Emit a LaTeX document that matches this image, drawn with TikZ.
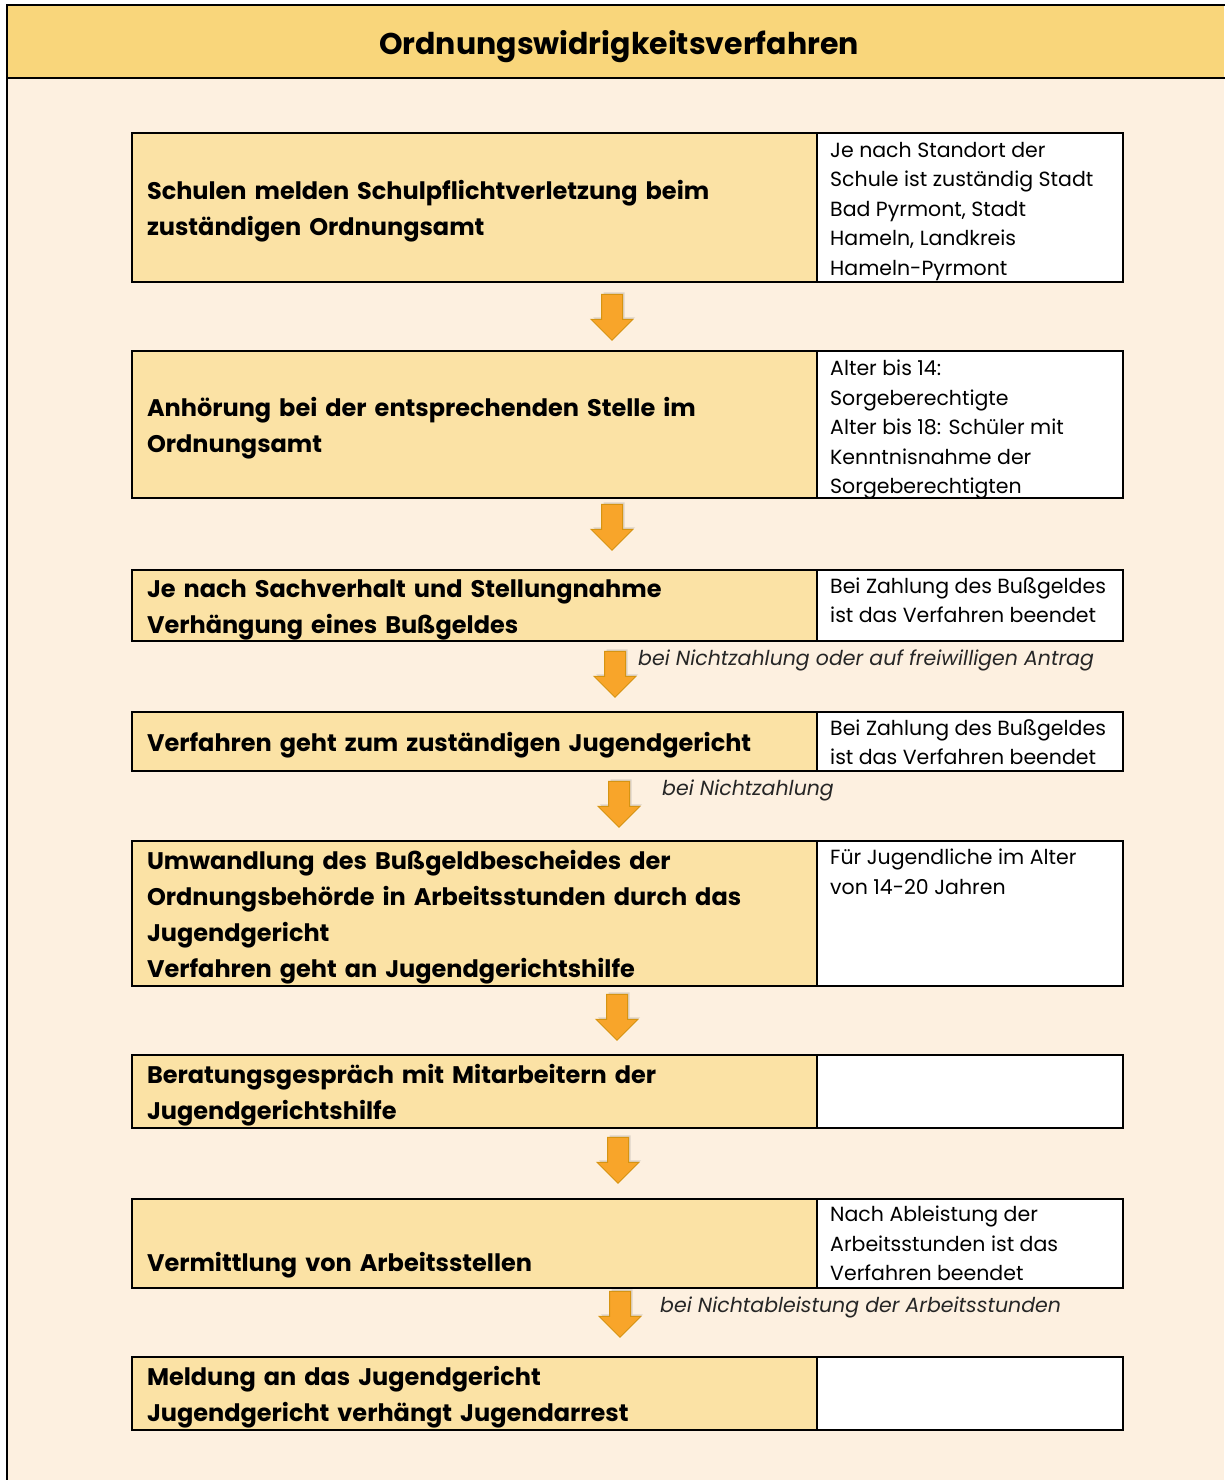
\documentclass[tikz,border=0pt]{standalone}
\usepackage{fontspec}
\setmainfont{Poppins}
\usepackage{xcolor}
\definecolor{HeadFill}{RGB}{249,214,123}
\definecolor{BackFill}{RGB}{253,240,224}
\definecolor{StepFill}{RGB}{251,226,165}
\definecolor{ArrowFill}{RGB}{248,165,42}
\definecolor{ArrowBorder}{RGB}{214,148,18}
\usetikzlibrary{
  positioning,
  calc,
  shapes.arrows,
  shadows
}
\tikzset{
  % Step box (left column)
  stepbox/.style={
    draw=black,
    line width=2pt,
    fill=StepFill,
    anchor=north west,
    minimum width=685,
    text width=655,
    inner xsep=15,
    inner ysep=0,
    align=left,
    font=\fontsize{24}{36}\selectfont\bfseries,
    execute at begin node={\rule{0pt}{26pt}}
  },
  % Note box (right column)
  notebox/.style={
    draw=black,
    line width=2pt,
    fill=white,
    anchor=north west,
    minimum width=306,
    inner sep=0
  },
  % Note text
  notetext/.style={
    anchor=north west,
    inner sep=0,
    align=left,
    font=\fontsize{20.5}{29.5}\selectfont
  },
  % Block arrow between steps
  flowarrow/.style={
    single arrow,
    rotate=-90,
    draw=ArrowBorder,
    line width=1pt,
    fill=ArrowFill,
    minimum height=46,
    minimum width=41,
    single arrow head extend=10.5,
    single arrow head indent=0,
    inner xsep=0,
    inner ysep=10,
    drop shadow={shadow xshift=2pt, shadow yshift=2pt, opacity=0.25}
  },
  % Condition label next to an arrow
  condtext/.style={
    anchor=west,
    inner sep=0,
    font=\fontsize{20.5}{25}\selectfont\itshape,
    text=black!85
  },
  % Title
  titletext/.style={
    inner sep=0,
    font=\fontsize{30}{36}\selectfont\bfseries
  }
}

\begin{document}
\begin{tikzpicture}[x=1pt,y=-1pt]
  \useasboundingbox (0,0) rectangle (1224,1480);
  \fill[BackFill] (7,5) rectangle (1224,1480);
  \fill[HeadFill] (7,5) rectangle (1224,78);
  \draw[line width=2.5pt] (1230,5) -- (7,5) -- (7,1485);
  \draw[line width=2.5pt] (7,78) -- (1230,78);

  \node[titletext] (title) at (619,47) {Ordnungswidrigkeitsverfahren};

  % Steps
  \node[stepbox, minimum height=149] (s1) at (131,132)
    {Schulen melden Schulpflichtverletzung beim\\zuständigen Ordnungsamt};
  \node[stepbox, minimum height=147] (s2) at (131,350)
    {Anhörung bei der entsprechenden Stelle im\\Ordnungsamt};
  \node[stepbox, minimum height=71] (s3) at (131,569)
    {Je nach Sachverhalt und Stellungnahme\\Verhängung eines Bußgeldes};
  \node[stepbox, minimum height=59] (s4) at (131,711)
    {Verfahren geht zum zuständigen Jugendgericht};
  \node[stepbox, minimum height=145] (s5) at (131,840)
    {Umwandlung des Bußgeldbescheides der\\Ordnungsbehörde in Arbeitsstunden durch das\\Jugendgericht\\Verfahren geht an Jugendgerichtshilfe};
  \node[stepbox, minimum height=73] (s6) at (131,1054)
    {Beratungsgespräch mit Mitarbeitern der\\Jugendgerichtshilfe};
  \node[stepbox, minimum height=89] (s7) at (131,1198)
    {\mbox{}\\Vermittlung von Arbeitsstellen};
  \node[stepbox, minimum height=73] (s8) at (131,1356)
    {Meldung an das Jugendgericht\\Jugendgericht verhängt Jugendarrest};

  % Notes
  \node[notebox, minimum height=149] (r1) at (816,132) {};
  \node[notebox, minimum height=147] (r2) at (816,350) {};
  \node[notebox, minimum height=71] (r3) at (816,569) {};
  \node[notebox, minimum height=59] (r4) at (816,711) {};
  \node[notebox, minimum height=145] (r5) at (816,840) {};
  \node[notebox, minimum height=73] (r6) at (816,1054) {};
  \node[notebox, minimum height=89] (r7) at (816,1198) {};
  \node[notebox, minimum height=73] (r8) at (816,1356) {};

  \node[notetext] (n1) at ($(r1.north west)+(14,10)$)
    {Je nach Standort der\\Schule ist zuständig Stadt\\Bad Pyrmont, Stadt\\Hameln, Landkreis\\Hameln-Pyrmont};
  \node[notetext] (n2) at ($(r2.north west)+(14,10)$)
    {Alter bis 14:\\Sorgeberechtigte\\Alter bis 18: Schüler mit\\Kenntnisnahme der\\Sorgeberechtigten};
  \node[notetext] (n3) at ($(r3.north west)+(14,8)$)
    {Bei Zahlung des Bußgeldes\\ist das Verfahren beendet};
  \node[notetext] (n4) at ($(r4.north west)+(14,8)$)
    {Bei Zahlung des Bußgeldes\\ist das Verfahren beendet};
  \node[notetext] (n5) at ($(r5.north west)+(14,9)$)
    {Für Jugendliche im Alter\\von 14-20 Jahren};
  \node[notetext] (n7) at ($(r7.north west)+(14,8)$)
    {Nach Ableistung der\\Arbeitsstunden ist das\\Verfahren beendet};

  % Arrows
  \node[flowarrow] (a1) at (612,312) {};
  \node[flowarrow] (a2) at (612,522) {};
  \node[flowarrow] (a3) at (615,669) {};
  \node[flowarrow] (a4) at (619,799) {};
  \node[flowarrow] (a5) at (617,1012) {};
  \node[flowarrow] (a6) at (618,1155) {};
  \node[flowarrow] (a7) at (620,1309) {};

  \node[condtext] (c3) at (638,660) {bei Nichtzahlung oder auf freiwilligen Antrag};
  \node[condtext] (c4) at (662,790) {bei Nichtzahlung};
  \node[condtext] (c7) at (660,1307) {bei Nichtableistung der Arbeitsstunden};
\end{tikzpicture}
\end{document}
